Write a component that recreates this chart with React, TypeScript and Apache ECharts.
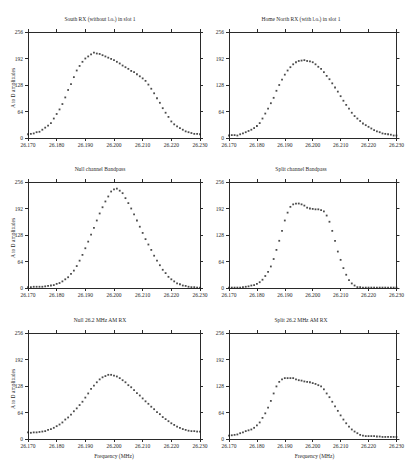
import React, { useEffect, useRef } from "react";
import * as echarts from "echarts";

// Frequency sweep: 26.170 MHz to 26.230 MHz in 1 kHz steps (61 samples), kept in kHz.
const FREQ_START_KHZ = 26170;
const FREQ_STEP_KHZ = 1;

// A to D amplitudes per sample.
const southRx = [9, 10, 11, 14, 15, 20, 25, 30, 36, 47, 58, 69, 82, 98, 116, 130, 147, 163, 174, 184, 192, 197, 202, 206, 204, 203, 200, 197, 194, 191, 188, 184, 180, 175, 171, 167, 162, 159, 154, 149, 144, 138, 129, 119, 108, 96, 85, 72, 61, 51, 40, 33, 28, 24, 20, 16, 14, 12, 10, 10, 9];
const homeNorthRx = [6, 7, 7, 6, 9, 11, 14, 17, 20, 24, 29, 36, 47, 59, 71, 84, 97, 114, 128, 141, 153, 163, 171, 178, 183, 186, 187, 188, 186, 185, 183, 178, 172, 167, 159, 150, 142, 132, 122, 112, 101, 90, 80, 71, 61, 53, 47, 41, 35, 31, 27, 23, 19, 16, 14, 11, 10, 9, 8, 6, 6];
const nullBandpass = [2, 2, 3, 3, 3, 3, 4, 5, 6, 7, 10, 12, 16, 21, 26, 34, 42, 53, 66, 80, 96, 112, 129, 145, 163, 180, 195, 209, 221, 233, 238, 240, 235, 229, 217, 205, 192, 178, 163, 148, 133, 118, 105, 92, 78, 66, 55, 44, 36, 27, 21, 16, 11, 9, 6, 5, 3, 2, 2, 1, 1];
const splitBandpass = [1, 1, 1, 1, 1, 2, 3, 4, 6, 7, 10, 14, 20, 29, 39, 52, 70, 92, 114, 138, 163, 182, 196, 202, 204, 204, 202, 199, 194, 192, 191, 190, 190, 188, 185, 175, 160, 138, 114, 88, 68, 48, 32, 19, 11, 6, 2, 2, 1, 1, 1, 1, 1, 1, 1, 1, 1, 1, 1, 1, 1];
const nullAmRx = [16, 15, 16, 16, 17, 18, 19, 22, 24, 27, 31, 35, 40, 47, 52, 59, 67, 74, 82, 90, 100, 110, 121, 129, 137, 144, 149, 152, 155, 155, 153, 151, 147, 142, 137, 130, 125, 118, 111, 105, 98, 91, 85, 78, 72, 65, 60, 53, 48, 43, 38, 34, 30, 27, 24, 22, 20, 19, 19, 18, 18];
const splitAmRx = [8, 9, 10, 11, 14, 16, 19, 21, 23, 27, 33, 40, 51, 62, 76, 92, 110, 127, 138, 144, 147, 147, 147, 147, 144, 142, 141, 139, 138, 137, 135, 133, 130, 127, 120, 110, 101, 90, 79, 68, 57, 47, 38, 30, 23, 18, 14, 10, 8, 7, 7, 7, 7, 6, 6, 5, 5, 5, 5, 5, 5];

const panelTitles = [
  "South RX (without l.o.) in slot 1",
  "Home North RX (with l.o.) in slot 1",
  "Null channel Bandpass",
  "Split channel Bandpass",
  "Null 26.2 MHz AM RX",
  "Split 26.2 MHz AM RX",
];
const panelSeries = [southRx, homeNorthRx, nullBandpass, splitBandpass, nullAmRx, splitAmRx];

const yAxisName = "A to D amplitudes";
const xAxisName = "Frequency (MHz)";

const FONT = '"Liberation Serif", "DejaVu Serif", serif';
const INK = "#2a2a2a";

export default function App() {
  const ref = useRef<HTMLDivElement>(null);

  useEffect(() => {
    if (!ref.current) return;
    const chart = echarts.init(ref.current, null, { renderer: "svg" });

    const colLeft = [28, 229];
    const colWidth = [172, 171];
    const rowTop = [32, 182, 333];
    const plotH = 106;

    const grids: any[] = [];
    const xAxes: any[] = [];
    const yAxes: any[] = [];
    const series: any[] = [];
    const graphics: any[] = [];

    const tickStyle = { show: true, inside: false, length: 3, lineStyle: { color: INK, width: 1 } };
    const lineStyle = { show: true, onZero: false, lineStyle: { color: INK, width: 1 } };
    const labelStyle = { color: INK, fontFamily: FONT, fontSize: 5.5 };

    const textStyle = (text: string) => ({
      text,
      font: `5.5px ${FONT}`,
      fill: INK,
      textAlign: "center",
      textVerticalAlign: "middle",
      align: "center",
      verticalAlign: "middle",
    });

    panelSeries.forEach((values, i) => {
      const col = i % 2;
      const row = Math.floor(i / 2);
      grids.push({ left: colLeft[col], top: rowTop[row], width: colWidth[col], height: plotH });

      const xBase = {
        type: "value",
        gridIndex: i,
        min: 26170,
        max: 26230,
        interval: 10,
        axisLine: lineStyle,
        axisTick: tickStyle,
        splitLine: { show: false },
      };
      const yBase = {
        type: "value",
        gridIndex: i,
        min: 0,
        max: 256,
        interval: 64,
        axisLine: lineStyle,
        axisTick: tickStyle,
        splitLine: { show: false },
      };
      xAxes[i] = {
        ...xBase,
        position: "bottom",
        axisLabel: { ...labelStyle, margin: 4, formatter: (v: number) => (v / 1000).toFixed(3) },
      };
      xAxes[i + 6] = { ...xBase, position: "top", axisLabel: { show: false } };
      yAxes[i] = { ...yBase, position: "left", axisLabel: { ...labelStyle, margin: 5 } };
      yAxes[i + 6] = { ...yBase, position: "right", axisLabel: { show: false } };

      series.push({
        type: "scatter",
        xAxisIndex: i,
        yAxisIndex: i,
        symbol: "rect",
        symbolSize: 1.8,
        itemStyle: { color: "#1e1e1e" },
        data: values.map((v, k) => [FREQ_START_KHZ + k * FREQ_STEP_KHZ, v]),
      });

      const cx = col === 0 ? 100 : 301;
      graphics.push({ type: "text", x: cx, y: rowTop[row] - 13, style: textStyle(panelTitles[i]) });
      if (col === 0) {
        graphics.push({
          type: "text",
          x: 13,
          y: rowTop[row] + plotH / 2 + 3,
          rotation: Math.PI / 2,
          style: textStyle(yAxisName),
        });
      }
      if (row === 2) {
        graphics.push({
          type: "text",
          x: colLeft[col] + colWidth[col] / 2,
          y: 455.5,
          style: textStyle(xAxisName),
        });
      }
    });

    chart.setOption({
      animation: false,
      backgroundColor: "#ffffff",
      grid: grids,
      xAxis: xAxes,
      yAxis: yAxes,
      series,
      graphic: graphics,
    });

    return () => chart.dispose();
  }, []);

  return (
    <div
      ref={ref}
      style={{ position: "fixed", left: 0, top: 0, width: 407, height: 460, background: "#fff" }}
    />
  );
}
